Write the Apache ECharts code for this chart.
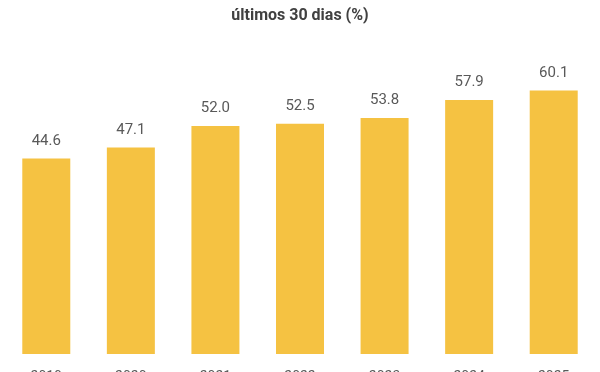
<!DOCTYPE html>
<html><head><meta charset="utf-8">
<script src="https://cdn.jsdelivr.net/npm/echarts@6/dist/echarts.min.js"></script>
<style>html,body{margin:0;padding:0;background:#fff}#c{width:600px;height:372px}</style>
</head><body><div id="c"></div>
<script>
const titleText = 'últimos 30 dias (%)';
const categories = ['2019', '2020', '2021', '2022', '2023', '2024', '2025'];
const values = [44.6, 47.1, 52.0, 52.5, 53.8, 57.9, 60.1];

const chart = echarts.init(document.getElementById('c'), null, {renderer: 'canvas'});
chart.setOption({
  animation: false,
  title: {
    text: titleText, left: 'center', top: 3,
    textStyle: {fontFamily: 'Roboto', fontWeight: 'bold', fontSize: 16, color: '#404040'}
  },
  grid: {left: 4, right: 4, top: 47, bottom: 18, containLabel: false, outerBoundsMode: 'none'},
  xAxis: {
    type: 'category', data: categories,
    axisLine: {show: false}, axisTick: {show: false},
    axisLabel: {margin: 16, fontFamily: 'Roboto', fontSize: 14, color: '#595959'}
  },
  yAxis: {type: 'value', min: 0, max: 70, show: false, splitLine: {show: false}},
  series: [{
    type: 'bar', data: values, barWidth: 48,
    itemStyle: {color: '#F5C242'},
    label: {show: true, position: 'top', distance: 10, formatter: p => p.value.toFixed(1),
      fontFamily: 'Roboto', fontSize: 15, color: '#595959'}
  }]
});
</script></body></html>
